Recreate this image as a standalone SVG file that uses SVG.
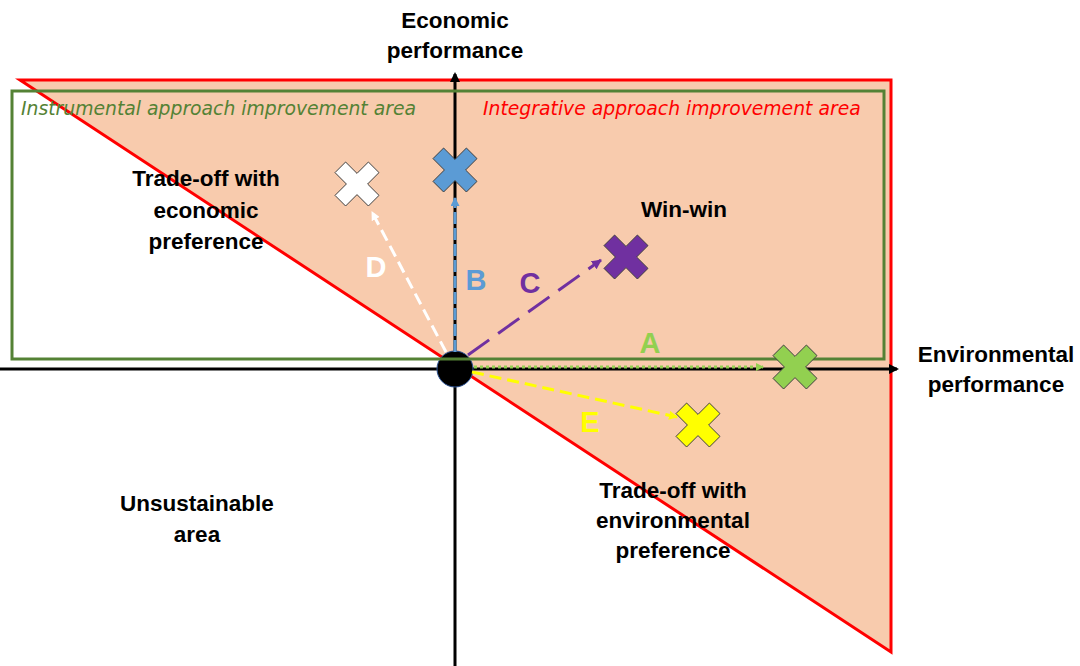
<svg xmlns="http://www.w3.org/2000/svg" width="1080" height="666" viewBox="0 0 1080 666">
<style>
.lbl{font-family:"Liberation Sans",Arial,sans-serif;font-weight:bold;font-size:22.5px;fill:#000;text-anchor:middle}
.area{font-family:"DejaVu Sans",sans-serif;font-style:italic;font-size:18.8px}
.let{font-family:"Liberation Sans",Arial,sans-serif;font-weight:bold;font-size:29px;text-anchor:middle}
.cross{stroke:#404040;stroke-width:1;stroke-linejoin:miter}
</style>
<defs>
<marker id="ahBlack" markerWidth="10" markerHeight="10" refX="8" refY="5" orient="auto" markerUnits="userSpaceOnUse"><path d="M0,0 L10,5 L0,10 Z" fill="#000"/></marker>
<marker id="ahGreen" markerWidth="8" markerHeight="8" refX="7" refY="4" orient="auto" markerUnits="userSpaceOnUse"><path d="M0,0 L8,4 L0,8 Z" fill="#92D050"/></marker>
<marker id="ahYellow" markerWidth="9" markerHeight="9" refX="8" refY="4.5" orient="auto" markerUnits="userSpaceOnUse"><path d="M0,0 L9,4.5 L0,9 Z" fill="#FFFF00"/></marker>
<marker id="ahBlue" markerWidth="9" markerHeight="9" refX="8" refY="4.5" orient="auto" markerUnits="userSpaceOnUse"><path d="M0,0 L9,4.5 L0,9 Z" fill="#5B9BD5"/></marker>
<marker id="ahPurple" markerWidth="10" markerHeight="10" refX="9" refY="5" orient="auto" markerUnits="userSpaceOnUse"><path d="M0,0 L10,5 L0,10 Z" fill="#7030A0"/></marker>
<marker id="ahWhite" markerWidth="9" markerHeight="9" refX="8" refY="4.5" orient="auto" markerUnits="userSpaceOnUse"><path d="M0,0 L9,4.5 L0,9 Z" fill="#FFFFFF"/></marker>
<path id="xshape" d="M0,-10.6 L11.4,-22 L22,-11.4 L10.6,0 L22,11.4 L11.4,22 L0,10.6 L-11.4,22 L-22,11.4 L-10.6,0 L-22,-11.4 L-11.4,-22 Z"/>
</defs>
<rect width="1080" height="666" fill="#fff"/>

<g id="integrative-area">
<polygon points="20,80 891,80 891,652" fill="#F8CBAD" stroke="#FF0000" stroke-width="3"/>
<text class="area" x="483" y="115" fill="#FF0000">Integrative approach improvement area</text>
</g>

<g id="axes">
<line x1="0" y1="369" x2="897" y2="369" stroke="#000" stroke-width="3" marker-end="url(#ahBlack)"/>
<line x1="455" y1="666" x2="455" y2="74" stroke="#000" stroke-width="3" marker-end="url(#ahBlack)"/>
</g>

<g id="origin"><circle cx="455" cy="369" r="18" fill="#000" stroke="#2F5597" stroke-width="1"/></g>

<g id="instrumental-area">
<rect x="12" y="91" width="872" height="268" fill="none" stroke="#548235" stroke-width="3"/>
<text class="area" x="21" y="115" fill="#548235">Instrumental approach improvement area</text>
</g>

<g id="connectors" fill="none" stroke-width="3">
<line id="arrow-A" x1="474" y1="367" x2="763" y2="367" stroke="#92D050" stroke-dasharray="3,3" marker-end="url(#ahGreen)"/>
<line id="arrow-E" x1="472" y1="372" x2="677" y2="417" stroke="#FFFF00" stroke-dasharray="12,6" marker-end="url(#ahYellow)"/>
<line id="arrow-B" x1="455" y1="352" x2="455" y2="198" stroke="#5B9BD5" stroke-dasharray="12,4" marker-end="url(#ahBlue)"/>
<line id="arrow-C" x1="468" y1="355" x2="601" y2="260" stroke="#7030A0" stroke-dasharray="26,11" marker-end="url(#ahPurple)"/>
<line id="arrow-D" x1="446" y1="352" x2="372" y2="212" stroke="#FFFFFF" stroke-dasharray="12,6" marker-end="url(#ahWhite)"/>
</g>

<g id="cross-B"><use href="#xshape" x="455" y="170" fill="#5B9BD5" class="cross"/></g>
<g id="cross-D"><use href="#xshape" x="357" y="184" fill="#FFFFFF" class="cross"/></g>
<g id="cross-C"><use href="#xshape" x="626" y="257" fill="#7030A0" class="cross"/></g>
<g id="cross-A"><use href="#xshape" x="795" y="367" fill="#92D050" class="cross"/></g>
<g id="cross-E"><use href="#xshape" x="698" y="425" fill="#FFFF00" class="cross"/></g>

<g id="letters">
<text class="let" x="650" y="353" fill="#92D050">A</text>
<text class="let" x="476" y="290" fill="#5B9BD5">B</text>
<text class="let" x="530" y="293" fill="#7030A0">C</text>
<text class="let" x="376" y="277" fill="#FFFFFF">D</text>
<text class="let" x="590" y="432" fill="#FFFF00">E</text>
</g>

<g id="label-economic"><text class="lbl" x="455" y="28">Economic</text><text class="lbl" x="455" y="58">performance</text></g>
<g id="label-environmental"><text class="lbl" x="996" y="362">Environmental</text><text class="lbl" x="996" y="392">performance</text></g>
<g id="label-tradeoff-econ"><text class="lbl" x="206" y="186">Trade-off with</text><text class="lbl" x="206" y="218">economic</text><text class="lbl" x="206" y="249">preference</text></g>
<g id="label-winwin"><text class="lbl" x="684" y="217">Win-win</text></g>
<g id="label-unsustainable"><text class="lbl" x="197" y="511">Unsustainable</text><text class="lbl" x="197" y="542">area</text></g>
<g id="label-tradeoff-env"><text class="lbl" x="673" y="498">Trade-off with</text><text class="lbl" x="673" y="528">environmental</text><text class="lbl" x="673" y="558">preference</text></g>
</svg>
